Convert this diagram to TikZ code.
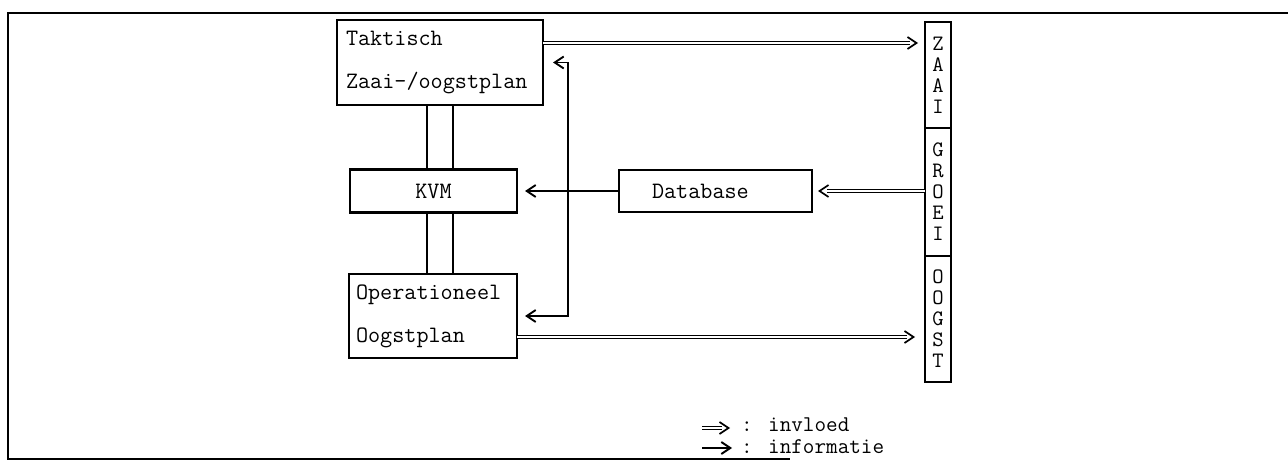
\documentclass[tikz,border=0pt]{standalone}
\usepackage{fontspec}
\usetikzlibrary{arrows.meta,positioning}

\begin{document}
\begin{tikzpicture}[
  x=1pt,
  y=-1pt,
  line join=miter,
  font=\ttfamily\fontsize{23.5}{26}\selectfont,
  box/.style={draw,line width=2.3pt,rectangle,inner sep=0pt,outer sep=0pt},
  planbox/.style={box,align=left,font=\ttfamily\fontsize{23.5}{43}\selectfont},
  phase/.style={box,minimum width=26pt,align=center,font=\ttfamily\fontsize{22}{21}\selectfont},
  legend/.style={anchor=north west,inner sep=0pt,align=left,font=\ttfamily\fontsize{22.5}{22}\selectfont},
  link/.style={draw,line width=2pt},
  info/.style={draw,line width=1.9pt,-{Straight Barb[length=9pt,width=12pt]}},
  infl/.style={draw,line width=1.2pt,double,double distance=2.4pt},
  barb/.style={draw,line width=1.7pt,-{Straight Barb[length=9pt,width=12pt]}}
]
  % Frame of the scanned figure, open on the right.
  \useasboundingbox (0,0) rectangle (1288,463);
  \draw[line width=2.4pt] (1288,13) -- (8,13) -- (8,459) -- (790,459);

  % Planning levels and the model between them.
  \node[planbox,minimum width=206pt,minimum height=85pt,text width=188pt] (takt) at (440,62.5) {Taktisch\\Zaai-/oogstplan};
  \node[box,minimum width=167pt,minimum height=43pt] (kvm) at (433.5,191) {KVM};
  \node[planbox,minimum width=168pt,minimum height=84pt,text width=154pt] (op) at (433,316) {Operationeel\\Oogstplan};
  \node[box,minimum width=193pt,minimum height=42pt,text width=127pt,align=left] (db) at (715.5,191) {Database};

  % Crop phases stacked in one column.
  \node[phase,minimum height=106pt] (zaai) at (938,75) {Z\\A\\A\\I};
  \node[phase,minimum height=128pt,below=0pt of zaai] (groei) {G\\R\\O\\E\\I};
  \node[phase,minimum height=126pt,below=0pt of groei] (oogst) {O\\O\\G\\S\\T};

  % Paired links from the plans to the model.
  \foreach \dx in {-13,13} {
    \draw[link] ([xshift=\dx pt]takt.south) -- ([xshift=\dx pt]takt.south |- kvm.north);
    \draw[link] ([xshift=\dx pt]takt.south |- kvm.south) -- ([xshift=\dx pt]takt.south |- op.north);
  }

  % Influence (double lines) towards and from the phases.
  \coordinate (zaaiIn) at (918,43);
  \coordinate (oogstIn) at (915,337);
  \draw[infl,shorten >=8pt] (takt.east |- zaaiIn) -- (zaaiIn);
  \draw[barb] ([xshift=-1pt]zaaiIn) -- (zaaiIn);
  \draw[infl,shorten >=8pt] (op.east |- oogstIn) -- (oogstIn);
  \draw[barb] ([xshift=-1pt]oogstIn) -- (oogstIn);
  \draw[infl,shorten >=15pt] (groei.west |- db.east) -- (db.east);
  \draw[barb] ([xshift=7pt]db.east) -- ([xshift=6pt]db.east);

  % Information from the database to model and plans.
  \coordinate (split) at ([xshift=-51pt]db.west);
  \draw[info,shorten >=8pt] (db.west) -- (db.west -| kvm.east);
  \draw[info,shorten >=10pt] (split) |- (takt.east);
  \draw[info,shorten >=8pt] (split) |- (op.east);

  % Legend.
  \node[legend] (lgText) at (741,418) {: invloed\\: informatie};
  \coordinate (lgInfl) at ([xshift=-11pt,yshift=-10pt]lgText.north west);
  \coordinate (lgInfo) at ([xshift=-9pt,yshift=-30pt]lgText.north west);
  \draw[infl,shorten >=8pt] ([xshift=-28pt]lgInfl) -- (lgInfl);
  \draw[barb] ([xshift=-1pt]lgInfl) -- (lgInfl);
  \draw[info] ([xshift=-30pt]lgInfo) -- (lgInfo);
\end{tikzpicture}
\end{document}
